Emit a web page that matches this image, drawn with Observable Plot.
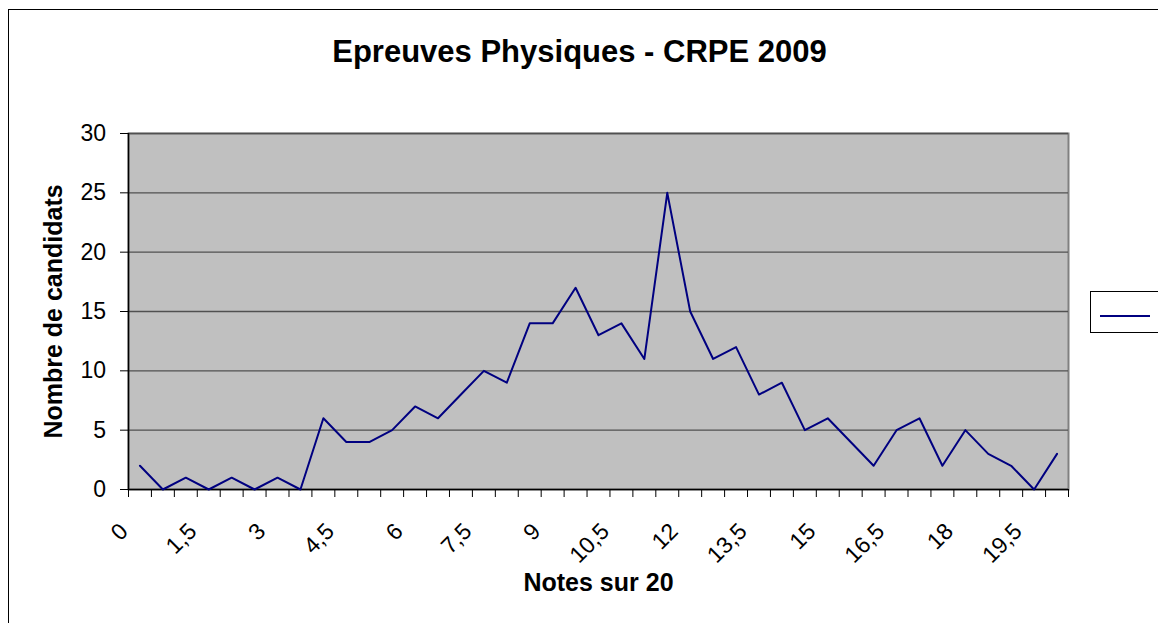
<!DOCTYPE html>
<html><head><meta charset="utf-8">
<script src="https://cdn.jsdelivr.net/npm/d3@7"></script>
<script src="https://cdn.jsdelivr.net/npm/@observablehq/plot@0.6"></script>
<style>
body{margin:0;background:#fff;}
#wrap{position:relative;width:1158px;height:623px;overflow:hidden;font-family:"Liberation Sans",Arial,sans-serif;}
#chart{position:absolute;left:0;top:0;}
#frame{position:absolute;left:8px;top:9px;width:1200px;height:700px;border:1px solid #000;box-sizing:border-box;pointer-events:none}
#legend{position:absolute;left:1090px;top:291px;width:100px;height:42px;border:1px solid #000;background:#fff;box-sizing:border-box}
#legend .ln{position:absolute;left:9px;top:23px;width:50px;height:2px;background:#000080}
</style></head>
<body><div id="wrap"><div id="chart"></div><div id="frame"></div><div id="legend"><div class="ln"></div></div></div>
<script>
const notes = [0,0.5,1,1.5,2,2.5,3,3.5,4,4.5,5,5.5,6,6.5,7,7.5,8,8.5,9,9.5,10,10.5,11,11.5,12,12.5,13,13.5,14,14.5,15,15.5,16,16.5,17,17.5,18,18.5,19,19.5,20];
const counts = [2,0,1,0,1,0,1,0,6,4,4,5,7,6,8,10,9,14,14,17,13,14,11,25,15,11,12,8,9,5,6,4,2,5,6,2,5,3,2,0,3];
const xLabels = [0,1.5,3,4.5,6,7.5,9,10.5,12,13.5,15,16.5,18,19.5];
const yTicks = [0,5,10,15,20,25,30];
const title = "Epreuves Physiques - CRPE 2009";
const xTitle = "Notes sur 20";
const yTitle = "Nombre de candidats";

const data = notes.map((n, i) => ({note: n, count: counts[i]}));
const half = (notes[1] - notes[0]) / 2;
const bounds = notes.map(n => n - half).concat([notes[notes.length - 1] + half]);
const fmt = v => String(v).replace(".", ",");

const chart = Plot.plot({
  width: 1158, height: 623,
  marginLeft: 128, marginRight: 90, marginTop: 133, marginBottom: 134,
  style: {fontFamily: "'Liberation Sans', Arial, sans-serif", background: "transparent", overflow: "visible", color: "#000"},
  x: {type: "linear", domain: [bounds[0], bounds[bounds.length - 1]]},
  y: {domain: [0, 30]},
  marks: [
    Plot.frame({fill: "#c0c0c0", stroke: "#808080", strokeWidth: 2}),
    Plot.ruleY(yTicks.filter(v => v > 0), {stroke: "#505050", strokeWidth: 1.3}),
    Plot.ruleX([bounds[0]], {stroke: "#000", strokeWidth: 1.5}),
    Plot.ruleY([0], {stroke: "#000", strokeWidth: 1.5}),
    Plot.axisY({ticks: yTicks, tickSize: 8, tickFormat: () => "", label: null, stroke: "#000"}),
    Plot.axisX({ticks: bounds, tickSize: 8, tickFormat: () => "", label: null, stroke: "#000"}),
    Plot.text(yTicks, {frameAnchor: "left", y: d => d, text: d => String(d), textAnchor: "end", lineAnchor: "middle", dx: -22.5, fontSize: 23, fill: "#000"}),
    Plot.text(xLabels, {x: d => d, y: () => 0, text: fmt, rotate: -45, textAnchor: "end", lineAnchor: "middle", dx: -16, dy: 38, fontSize: 23, fill: "#000"}),
    Plot.line(data, {x: "note", y: "count", stroke: "#000080", strokeWidth: 2}),
    Plot.text([yTitle], {frameAnchor: "left", dx: -67, rotate: -90, textAnchor: "middle", lineAnchor: "bottom", fontSize: 25, fontWeight: "bold", fill: "#000"}),
    Plot.text([xTitle], {frameAnchor: "bottom", dy: 101.7, lineAnchor: "bottom", fontSize: 25, fontWeight: "bold", fill: "#000"}),
    Plot.text([title], {frameAnchor: "top", dx: -19, dy: -71.3, lineAnchor: "bottom", fontSize: 31, fontWeight: "bold", fill: "#000"})
  ]
});
document.getElementById("chart").appendChild(chart);
</script>
</body></html>
